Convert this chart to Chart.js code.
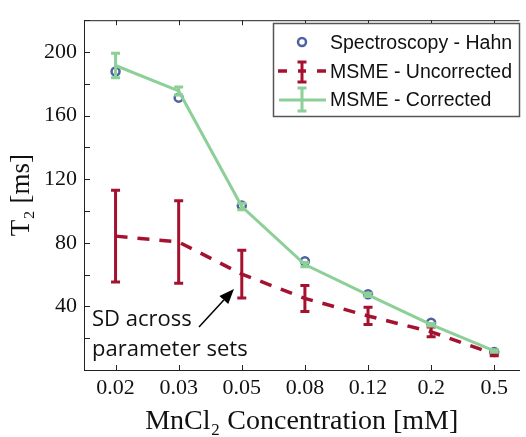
<!DOCTYPE html>
<html>
<head>
<meta charset="utf-8">
<script src="https://cdn.jsdelivr.net/npm/chart.js@4/dist/chart.umd.min.js"></script>
<style>
  html, body { margin: 0; padding: 0; background: #fff; }
  #chart { display: block; }
</style>
</head>
<body>
<canvas id="chart" width="526" height="437"></canvas>
<script>
// --- data ---
const concentrations = ['0.02', '0.03', '0.05', '0.08', '0.12', '0.2', '0.5'];
const hahnT2 = [187.7, 171.3, 103.4, 68.4, 47.6, 29.7, 11.3];
const correctedT2 = [191.5, 175.5, 102.8, 66.3, 47.2, 28.5, 12.0];
const correctedSD = [7.7, 2.5, 2.0, 1.3, 1.0, 0.8, 0.8];
const uncorrectedT2 = [84.2, 80.5, 60.3, 45.0, 34.0, 24.0, 10.0];
const uncorrectedSD = [28.8, 25.9, 15.0, 8.2, 5.4, 3.1, 1.0];
const yLabelTicks = [40, 80, 120, 160, 200];

const RED = '#a41230';
const GREEN = '#8cd098';
const BLUE = '#4e62a0';
const SERIF = '"Liberation Serif", "DejaVu Serif", serif';
const SANS = '"Liberation Sans", Arial, sans-serif';

const toPoints = arr => arr.map((v, i) => ({ x: i, y: v }));

// error bars per dataset index
const errorBars = {
    0: { values: correctedT2, sd: correctedSD, color: GREEN, width: 3 },
    1: { values: uncorrectedT2, sd: uncorrectedSD, color: RED, width: 3 }
};

function drawIBar(ctx, x, yTop, yBot, color, lw, capW) {
    ctx.save();
    ctx.strokeStyle = color;
    ctx.lineWidth = lw;
    ctx.setLineDash([]);
    ctx.lineCap = 'butt';
    ctx.beginPath();
    ctx.moveTo(x, yTop); ctx.lineTo(x, yBot);
    ctx.moveTo(x - capW / 2, yTop); ctx.lineTo(x + capW / 2, yTop);
    ctx.moveTo(x - capW / 2, yBot); ctx.lineTo(x + capW / 2, yBot);
    ctx.stroke();
    ctx.restore();
}

const errorBarPlugin = {
    id: 'errorBars',
    afterDatasetDraw(chart, args) {
        const eb = errorBars[args.index];
        if (!eb) return;
        const { ctx, scales: { x, y } } = chart;
        eb.values.forEach((v, i) => {
            const px = x.getPixelForValue(i);
            drawIBar(ctx, px, y.getPixelForValue(v + eb.sd[i]), y.getPixelForValue(v - eb.sd[i]), eb.color, eb.width, 9);
        });
    }
};

// inward ticks + top frame line
const frameTicks = {
    id: 'frameTicks',
    afterDatasetsDraw(chart) {
        const { ctx, chartArea: a, scales: { x, y } } = chart;
        ctx.save();
        ctx.strokeStyle = '#222';
        ctx.lineWidth = 1;
        ctx.beginPath();
        ctx.moveTo(a.left, a.top + 0.5); ctx.lineTo(a.right, a.top + 0.5);
        y.ticks.forEach(t => {
            const py = Math.round(y.getPixelForValue(t.value)) + 0.5;
            ctx.moveTo(a.left, py); ctx.lineTo(a.left + 6, py);
        });
        x.ticks.forEach(t => {
            const px = Math.round(x.getPixelForValue(t.value)) + 0.5;
            ctx.moveTo(px, a.bottom); ctx.lineTo(px, a.bottom - 5);
            ctx.moveTo(px, a.top); ctx.lineTo(px, a.top + 5);
        });
        ctx.stroke();
        ctx.restore();
    }
};

// legend box + annotation
const extras = {
    id: 'extras',
    afterDraw(chart) {
        const ctx = chart.ctx;
        ctx.save();
        // legend
        ctx.fillStyle = '#fff';
        ctx.fillRect(273.5, 23.5, 246, 93);
        ctx.strokeStyle = '#555';
        ctx.lineWidth = 1.5;
        ctx.strokeRect(273.5, 23.5, 246, 93);

        ctx.strokeStyle = BLUE;
        ctx.lineWidth = 2.5;
        ctx.beginPath();
        ctx.arc(302, 42, 4, 0, Math.PI * 2);
        ctx.stroke();

        ctx.strokeStyle = RED;
        ctx.lineWidth = 3.5;
        ctx.beginPath();
        ctx.moveTo(278, 71); ctx.lineTo(287, 71);
        ctx.moveTo(317, 71); ctx.lineTo(326, 71);
        ctx.moveTo(298, 71); ctx.lineTo(306, 71);
        ctx.stroke();
        drawIBar(ctx, 302, 62, 82, RED, 3, 9);

        ctx.strokeStyle = GREEN;
        ctx.lineWidth = 3;
        ctx.beginPath();
        ctx.moveTo(279, 100); ctx.lineTo(326, 100);
        ctx.stroke();
        drawIBar(ctx, 302, 88, 111, GREEN, 3, 9);

        ctx.fillStyle = '#111';
        ctx.font = '19.5px ' + SANS;
        ctx.textBaseline = 'alphabetic';
        ctx.textAlign = 'left';
        ctx.fillText('Spectroscopy - Hahn', 330, 48.5);
        ctx.fillText('MSME - Uncorrected', 330, 77.5);
        ctx.fillText('MSME - Corrected', 330, 106);

        // annotation
        ctx.font = '22px "Open Sans", sans-serif';
        ctx.fillText('SD across', 92, 326);
        ctx.fillText('parameter sets', 92, 356);

        ctx.strokeStyle = '#000';
        ctx.fillStyle = '#000';
        ctx.lineWidth = 1.5;
        const x0 = 199, y0 = 327, x1 = 234, y1 = 289;
        const ang = Math.atan2(y1 - y0, x1 - x0);
        const hl = 15, hw = 6;
        const bx = x1 - hl * Math.cos(ang), by = y1 - hl * Math.sin(ang);
        ctx.beginPath();
        ctx.moveTo(x0, y0); ctx.lineTo(bx, by);
        ctx.stroke();
        ctx.beginPath();
        ctx.moveTo(x1, y1);
        ctx.lineTo(bx + hw * Math.sin(ang), by - hw * Math.cos(ang));
        ctx.lineTo(bx - hw * Math.sin(ang), by + hw * Math.cos(ang));
        ctx.closePath();
        ctx.fill();
        ctx.restore();
    }
};

new Chart(document.getElementById('chart'), {
    type: 'line',
    data: {
        datasets: [
            {
                label: 'MSME - Corrected',
                data: toPoints(correctedT2),
                borderColor: GREEN,
                borderWidth: 3,
                pointRadius: 0,
                tension: 0,
                order: 1
            },
            {
                label: 'MSME - Uncorrected',
                data: toPoints(uncorrectedT2),
                borderColor: RED,
                borderWidth: 3.5,
                borderDash: [12, 10],
                pointRadius: 0,
                tension: 0,
                order: 2
            },
            {
                label: 'Spectroscopy - Hahn',
                data: toPoints(hahnT2),
                showLine: false,
                pointStyle: 'circle',
                pointRadius: 4,
                pointBorderWidth: 2.5,
                pointBorderColor: BLUE,
                pointBackgroundColor: 'rgba(0,0,0,0)',
                order: 3
            }
        ]
    },
    options: {
        responsive: false,
        animation: false,
        devicePixelRatio: 1,
        layout: { padding: { top: 13, left: 0, right: 0, bottom: 0 } },
        plugins: { legend: { display: false }, tooltip: { enabled: false } },
        scales: {
            x: {
                type: 'linear',
                min: -0.5,
                max: 6.4,
                afterBuildTicks: axis => { axis.ticks = concentrations.map((_, i) => ({ value: i })); },
                afterFit: axis => { axis.height = 67; },
                ticks: {
                    callback: v => concentrations[v],
                    font: { family: SERIF, size: 22 },
                    color: '#111',
                    padding: 5,
                    autoSkip: false,
                    maxRotation: 0
                },
                grid: { drawOnChartArea: false, drawTicks: false },
                border: { color: '#222', width: 1 },
                title: {
                    display: true,
                    text: 'MnCl\u2082 Concentration [mM]',
                    font: { family: SERIF, size: 28 },
                    color: '#111',
                    padding: { top: 0, bottom: -1 }
                }
            },
            y: {
                min: 0,
                max: 220,
                afterFit: axis => { axis.width = 84; },
                ticks: {
                    stepSize: 20,
                    callback: v => yLabelTicks.includes(v) ? String(v) : '',
                    font: { family: SERIF, size: 22 },
                    color: '#111',
                    padding: 7
                },
                grid: { drawOnChartArea: false, drawTicks: false },
                border: { color: '#222', width: 1 },
                title: {
                    display: true,
                    text: 'T\u2082 [ms]',
                    font: { family: SERIF, size: 27 },
                    color: '#111',
                    padding: { top: 6, bottom: 0 }
                }
            }
        }
    },
    plugins: [errorBarPlugin, frameTicks, extras]
});
</script>
</body>
</html>
